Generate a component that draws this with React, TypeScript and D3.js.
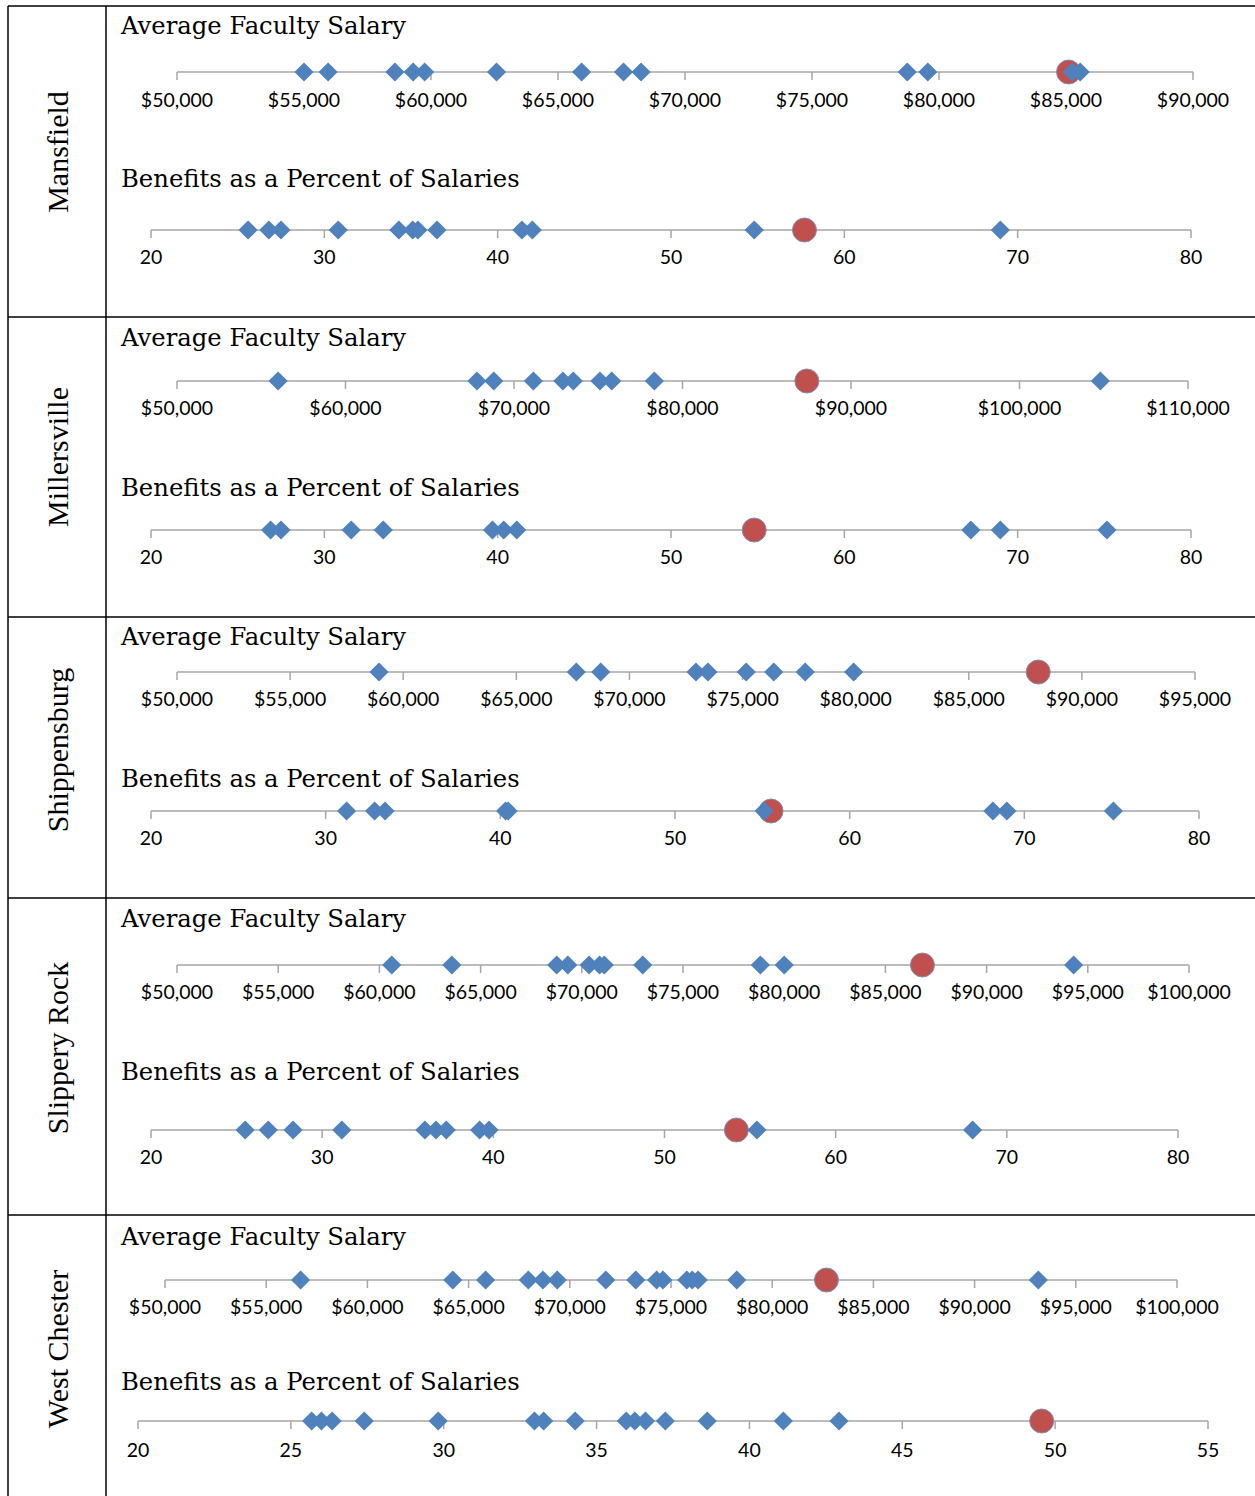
import React from "react";
import * as d3 from "d3";

// ---- data ----
const schools = ["Mansfield", "Millersville", "Shippensburg", "Slippery Rock", "West Chester"];
const salaryTitle = "Average Faculty Salary";
const benefitsTitle = "Benefits as a Percent of Salaries";

const mansfieldSalary = [55000, 55950, 58580, 59300, 59750, 62580, 65930, 67580, 68270, 78750, 79560, 85250, 85560];
const mansfieldSalaryMark = 85100;
const mansfieldBenefits = [25.6, 26.8, 27.5, 30.8, 34.3, 35.1, 35.4, 36.5, 41.4, 42.0, 54.8, 69.0];
const mansfieldBenefitsMark = 57.7;

const millersvilleSalary = [56000, 67800, 68800, 71150, 72900, 73520, 75100, 75800, 78330, 104800];
const millersvilleSalaryMark = 87380;
const millersvilleBenefits = [26.9, 27.5, 31.55, 33.4, 39.7, 40.35, 41.1, 67.3, 69.0, 75.15];
const millersvilleBenefitsMark = 54.8;

const shippensburgSalary = [58930, 67650, 68730, 72940, 73470, 75160, 76380, 77770, 79910];
const shippensburgSalaryMark = 88070;
const shippensburgBenefits = [31.2, 32.8, 33.4, 40.3, 40.45, 55.1, 68.2, 69.0, 75.1];
const shippensburgBenefitsMark = 55.5;

const slipperyRockSalary = [60610, 63580, 68760, 69310, 70360, 70880, 71110, 73010, 78820, 80000, 94300];
const slipperyRockSalaryMark = 86830;
const slipperyRockBenefits = [25.5, 26.85, 28.3, 31.15, 36.0, 36.65, 37.25, 39.2, 39.75, 55.4, 68.0];
const slipperyRockBenefitsMark = 54.2;

const westChesterSalary = [56700, 64220, 65840, 67950, 68670, 69380, 71780, 73260, 74290, 74600, 75780, 76050, 76340, 78250, 93150];
const westChesterSalaryMark = 82680;
const westChesterBenefits = [25.68, 26.0, 26.35, 27.4, 29.82, 32.97, 33.27, 34.3, 35.97, 36.25, 36.6, 37.25, 38.62, 41.11, 42.93];
const westChesterBenefitsMark = 49.56;

const salaryTicks1 = [50000, 55000, 60000, 65000, 70000, 75000, 80000, 85000, 90000];
const salaryTicks2 = [50000, 60000, 70000, 80000, 90000, 100000, 110000];
const salaryTicks3 = [50000, 55000, 60000, 65000, 70000, 75000, 80000, 85000, 90000, 95000];
const salaryTicks4 = [50000, 55000, 60000, 65000, 70000, 75000, 80000, 85000, 90000, 95000, 100000];
const benefitTicks1 = [20, 30, 40, 50, 60, 70, 80];
const benefitTicks5 = [20, 25, 30, 35, 40, 45, 50, 55];

// ---- layout ----
type Strip = {
  title: string;
  values: number[];
  mark: number;
  ticks: number[];
  x0: number;
  x1: number;
  axisY: number;
  titleY: number;
  labelY: number;
  money: boolean;
};

const money = d3.format("$,.0f");

const panels = [
  {
    name: schools[0], top: 6, bottom: 317, labelY: 152,
    strips: [
      { title: salaryTitle, values: mansfieldSalary, mark: mansfieldSalaryMark, ticks: salaryTicks1, x0: 177, x1: 1193, axisY: 72, titleY: 34, labelY: 107, money: true },
      { title: benefitsTitle, values: mansfieldBenefits, mark: mansfieldBenefitsMark, ticks: benefitTicks1, x0: 151, x1: 1191, axisY: 230, titleY: 187, labelY: 264, money: false },
    ],
  },
  {
    name: schools[1], top: 317, bottom: 617, labelY: 457,
    strips: [
      { title: salaryTitle, values: millersvilleSalary, mark: millersvilleSalaryMark, ticks: salaryTicks2, x0: 177, x1: 1188, axisY: 381, titleY: 346, labelY: 415, money: true },
      { title: benefitsTitle, values: millersvilleBenefits, mark: millersvilleBenefitsMark, ticks: benefitTicks1, x0: 151, x1: 1191, axisY: 530, titleY: 496, labelY: 564, money: false },
    ],
  },
  {
    name: schools[2], top: 617, bottom: 898, labelY: 750,
    strips: [
      { title: salaryTitle, values: shippensburgSalary, mark: shippensburgSalaryMark, ticks: salaryTicks3, x0: 177, x1: 1195, axisY: 672, titleY: 645, labelY: 706, money: true },
      { title: benefitsTitle, values: shippensburgBenefits, mark: shippensburgBenefitsMark, ticks: benefitTicks1, x0: 151, x1: 1199, axisY: 811, titleY: 787, labelY: 845, money: false },
    ],
  },
  {
    name: schools[3], top: 898, bottom: 1215, labelY: 1048,
    strips: [
      { title: salaryTitle, values: slipperyRockSalary, mark: slipperyRockSalaryMark, ticks: salaryTicks4, x0: 177, x1: 1189, axisY: 965, titleY: 927, labelY: 999, money: true },
      { title: benefitsTitle, values: slipperyRockBenefits, mark: slipperyRockBenefitsMark, ticks: benefitTicks1, x0: 151, x1: 1178, axisY: 1130, titleY: 1080, labelY: 1164, money: false },
    ],
  },
  {
    name: schools[4], top: 1215, bottom: 1496, labelY: 1349,
    strips: [
      { title: salaryTitle, values: westChesterSalary, mark: westChesterSalaryMark, ticks: salaryTicks4, x0: 165, x1: 1177, axisY: 1280, titleY: 1245, labelY: 1314, money: true },
      { title: benefitsTitle, values: westChesterBenefits, mark: westChesterBenefitsMark, ticks: benefitTicks5, x0: 138, x1: 1208, axisY: 1421, titleY: 1390, labelY: 1457, money: false },
    ],
  },
];

const BLUE = "#4F81BD";
const RED = "#C0504D";
const AXIS = "#A6A6A6";
const TITLE_FONT = "'DejaVu Serif', serif";
const TICK_FONT = "Lato, 'Open Sans', sans-serif";
const ROW_FONT = "'Liberation Serif', serif";

function StripChart({ s }: { s: Strip }) {
  const ticks = s.ticks;
  const x = d3.scaleLinear().domain([ticks[0], ticks[ticks.length - 1]]).range([s.x0, s.x1]);
  const diamond = d3.symbol().type(d3.symbolDiamond2).size(235)();
  return (
    <g>
      <text x={121} y={s.titleY} fontFamily={TITLE_FONT} fontSize={24.3} fill="#000">{s.title}</text>
      <line x1={s.x0} x2={s.x1} y1={s.axisY} y2={s.axisY} stroke={AXIS} strokeWidth={1.5} />
      {ticks.map((t) => (
        <g key={t}>
          <line x1={x(t)} x2={x(t)} y1={s.axisY} y2={s.axisY + 8} stroke={AXIS} strokeWidth={1.5} />
          <text x={x(t)} y={s.labelY} textAnchor="middle" fontFamily={TICK_FONT} fontSize={19.5} fill="#000">
            {s.money ? money(t) : String(t)}
          </text>
        </g>
      ))}
      <circle cx={x(s.mark)} cy={s.axisY} r={12} fill={RED} stroke="#7F8FB5" strokeWidth={1} />
      {s.values.map((v, i) => (
        <path key={i} d={diamond as string} transform={`translate(${x(v)},${s.axisY})`} fill={BLUE} />
      ))}
    </g>
  );
}

export default function App() {
  const W = 1255;
  const H = 1496;
  return (
    <svg width={W} height={H} style={{ position: "absolute", left: 0, top: 0, background: "#fff" }}>
      <rect x={0} y={0} width={W} height={H} fill="#fff" />
      {panels.map((p) => (
        <g key={p.name}>
          <text
            transform={`translate(68,${p.labelY}) rotate(-90)`}
            textAnchor="middle"
            fontFamily={ROW_FONT}
            fontSize={30}
            fill="#000"
          >
            {p.name}
          </text>
          {p.strips.map((s, i) => (
            <StripChart key={i} s={s as Strip} />
          ))}
        </g>
      ))}
      {/* table borders */}
      <line x1={8} x2={8} y1={6} y2={H} stroke="#000" strokeWidth={1.5} />
      <line x1={106} x2={106} y1={6} y2={H} stroke="#000" strokeWidth={1.5} />
      <line x1={8} x2={W} y1={6} y2={6} stroke="#000" strokeWidth={1.5} />
      {panels.slice(1).map((p) => (
        <line key={p.name} x1={8} x2={W} y1={p.top} y2={p.top} stroke="#000" strokeWidth={1.5} />
      ))}
    </svg>
  );
}
